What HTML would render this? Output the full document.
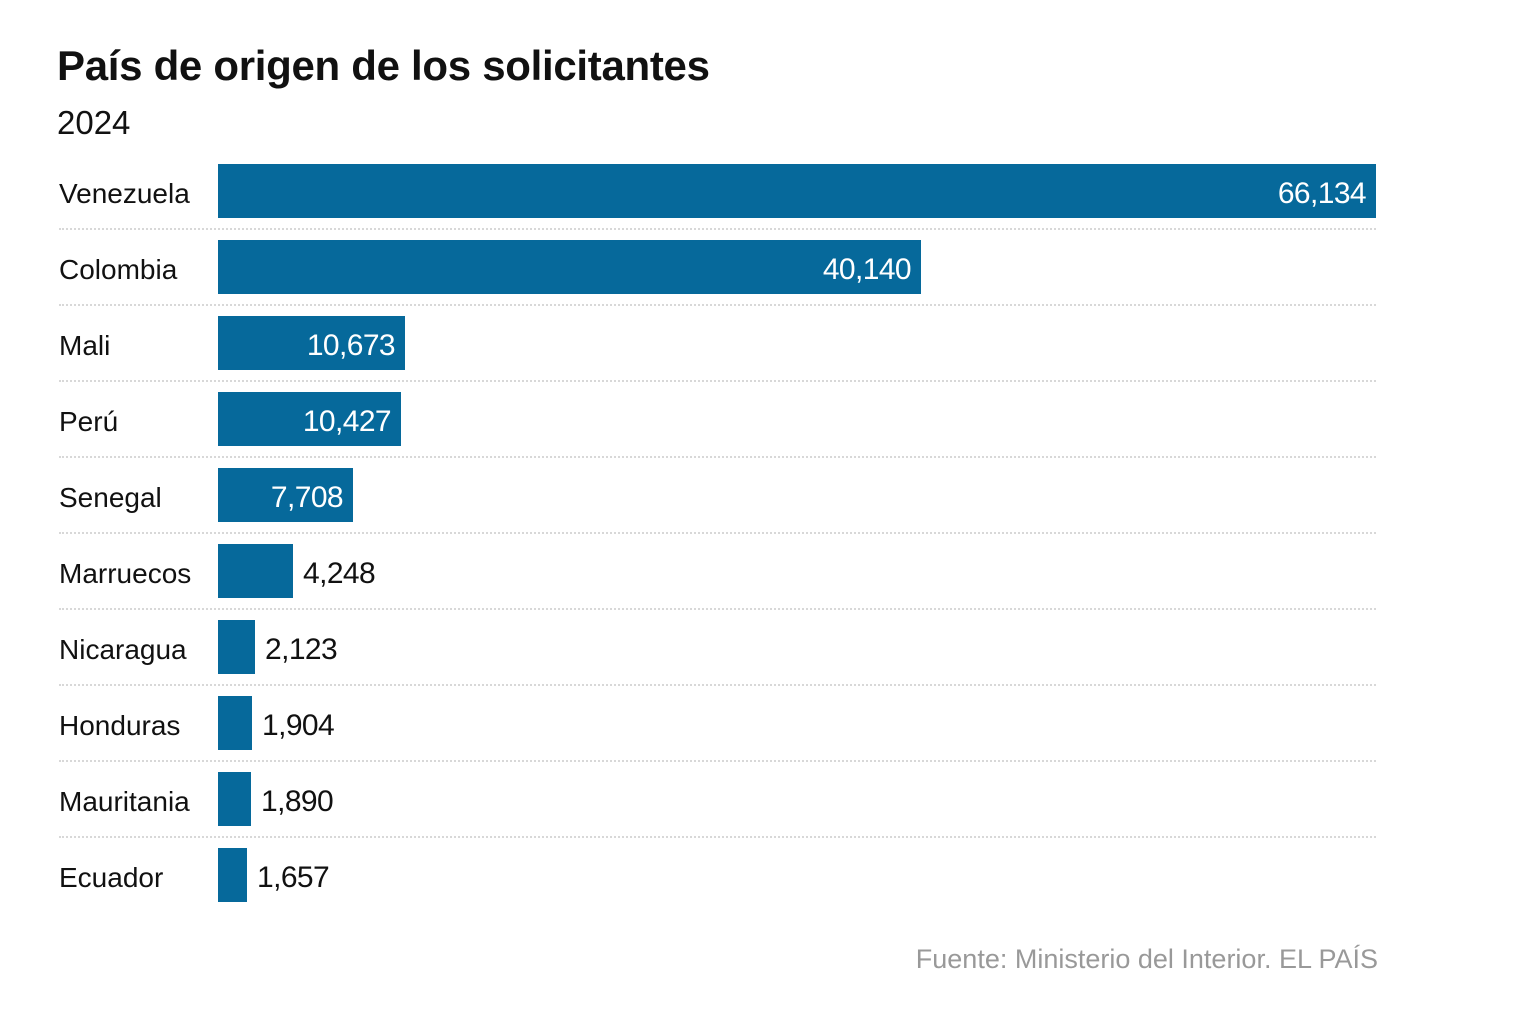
<!DOCTYPE html><html><head><meta charset="utf-8"><style>
body{margin:0;width:1532px;height:1018px;background:#fff;font-family:"Liberation Sans",sans-serif;color:#111;position:relative;overflow:hidden}
.t{position:absolute;left:57px;top:42px;font-size:42px;font-weight:bold;letter-spacing:-0.3px}
.s{position:absolute;left:57px;top:104px;font-size:33px}
.r{position:absolute;left:59px;width:1317px;height:76px}
.l{position:absolute;left:0;top:1px;line-height:58px;font-size:28px}
.b{position:absolute;left:159px;top:0;height:54px;background:#06699b}
.v{position:absolute;top:1px;line-height:58px;font-size:30px;letter-spacing:-0.6px}
.d{position:absolute;left:0;right:0;top:64px;border-top:2px dotted #d8d8d8}
.f{position:absolute;right:154px;top:944px;font-size:27px;color:#999}
</style></head><body>
<div class="t">País de origen de los solicitantes</div>
<div class="s">2024</div>
<div class="r" style="top:164px"><div class="l">Venezuela</div><div class="b" style="width:1158px"></div><div class="v" style="right:10px;color:#fff">66,134</div><div class="d"></div></div>
<div class="r" style="top:240px"><div class="l">Colombia</div><div class="b" style="width:703px"></div><div class="v" style="right:465px;color:#fff">40,140</div><div class="d"></div></div>
<div class="r" style="top:316px"><div class="l">Mali</div><div class="b" style="width:187px"></div><div class="v" style="right:981px;color:#fff">10,673</div><div class="d"></div></div>
<div class="r" style="top:392px"><div class="l">Perú</div><div class="b" style="width:183px"></div><div class="v" style="right:985px;color:#fff">10,427</div><div class="d"></div></div>
<div class="r" style="top:468px"><div class="l">Senegal</div><div class="b" style="width:135px"></div><div class="v" style="right:1033px;color:#fff">7,708</div><div class="d"></div></div>
<div class="r" style="top:544px"><div class="l">Marruecos</div><div class="b" style="width:75px"></div><div class="v" style="left:244px">4,248</div><div class="d"></div></div>
<div class="r" style="top:620px"><div class="l">Nicaragua</div><div class="b" style="width:37px"></div><div class="v" style="left:206px">2,123</div><div class="d"></div></div>
<div class="r" style="top:696px"><div class="l">Honduras</div><div class="b" style="width:34px"></div><div class="v" style="left:203px">1,904</div><div class="d"></div></div>
<div class="r" style="top:772px"><div class="l">Mauritania</div><div class="b" style="width:33px"></div><div class="v" style="left:202px">1,890</div><div class="d"></div></div>
<div class="r" style="top:848px"><div class="l">Ecuador</div><div class="b" style="width:29px"></div><div class="v" style="left:198px">1,657</div></div>
<div class="f">Fuente: Ministerio del Interior. EL PAÍS</div>
</body></html>
